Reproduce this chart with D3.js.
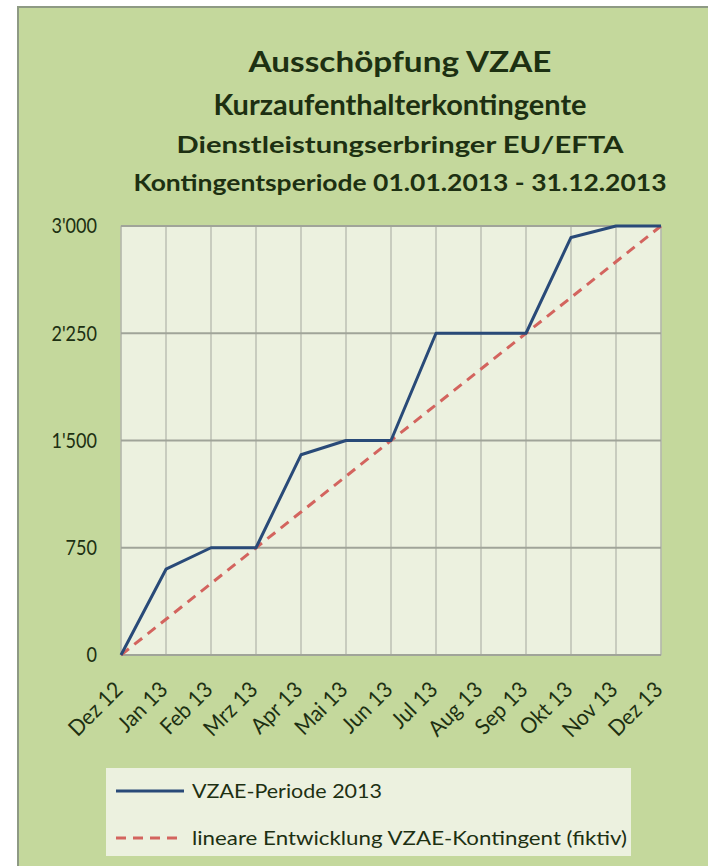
<!DOCTYPE html>
<html>
<head>
<meta charset="utf-8">
<script src="https://cdn.jsdelivr.net/npm/d3@7"></script>
<style>
  body { margin: 0; background: #fff; }
  svg { display: block; }
  text { font-family: Lato, "Open Sans", sans-serif; fill: #1d3012; }
</style>
</head>
<body>
<div id="chart"></div>
<script>
// data
const months = ["Dez 12", "Jan 13", "Feb 13", "Mrz 13", "Apr 13", "Mai 13", "Jun 13",
  "Jul 13", "Aug 13", "Sep 13", "Okt 13", "Nov 13", "Dez 13"];
const vzae2013 = [0, 600, 750, 750, 1400, 1500, 1500, 2250, 2250, 2250, 2920, 3000, 3000];
const linear = [0, 250, 500, 750, 1000, 1250, 1500, 1750, 2000, 2250, 2500, 2750, 3000];
const yTicks = [0, 750, 1500, 2250, 3000];
const titles = ["Ausschöpfung VZAE", "Kurzaufenthalterkontingente",
  "Dienstleistungserbringer EU/EFTA", "Kontingentsperiode 01.01.2013 - 31.12.2013"];
const legendLabels = ["VZAE-Periode 2013", "lineare Entwicklung VZAE-Kontingent (fiktiv)"];

const width = 708, height = 866;
const plot = { left: 121, right: 661, top: 226, bottom: 655 };

const svg = d3.select("#chart").append("svg")
  .attr("width", width).attr("height", height);

// panel
svg.append("rect").attr("x", 18).attr("y", 7)
  .attr("width", width).attr("height", height)
  .attr("fill", "#c4d89c")
  .attr("stroke", "#8e9a84").attr("stroke-width", 2);

// squeeze text (Calibri is narrower than the fonts we have)
const squeeze = (sel, k) => {
  sel.each(function () {
    const len = this.getComputedTextLength();
    d3.select(this).attr("textLength", len * k).attr("lengthAdjust", "spacingAndGlyphs");
  });
};
const toWidth = (sel, w) => sel.attr("textLength", w).attr("lengthAdjust", "spacingAndGlyphs");

// titles
const titleSpec = [
  { y: 72, size: 29, w: 303 },
  { y: 115, size: 29, w: 373 },
  { y: 153, size: 23, w: 447 },
  { y: 191, size: 23, w: 533 },
];
titles.forEach((t, i) => {
  const s = svg.append("text")
    .attr("x", 400).attr("y", titleSpec[i].y)
    .attr("text-anchor", "middle")
    .attr("font-weight", "bold")
    .attr("font-size", titleSpec[i].size)
    .text(t);
  toWidth(s, titleSpec[i].w);
});

// scales
const x = d3.scalePoint().domain(months).range([plot.left, plot.right]);
const y = d3.scaleLinear().domain([0, 3000]).range([plot.bottom, plot.top]);

// plot area
svg.append("rect")
  .attr("x", plot.left).attr("y", plot.top)
  .attr("width", plot.right - plot.left).attr("height", plot.bottom - plot.top)
  .attr("fill", "#ecf1df")
  .attr("stroke", "#b3b9a8").attr("stroke-width", 1);

// vertical gridlines
svg.append("g").selectAll("line").data(months).join("line")
  .attr("x1", (d) => x(d)).attr("x2", (d) => x(d))
  .attr("y1", plot.top).attr("y2", plot.bottom)
  .attr("stroke", "#b5b9ad").attr("stroke-width", 1.3);

// horizontal gridlines
svg.append("g").selectAll("line").data(yTicks).join("line")
  .attr("x1", plot.left).attr("x2", plot.right)
  .attr("y1", (d) => y(d)).attr("y2", (d) => y(d))
  .attr("stroke", "#a0a499").attr("stroke-width", 2);

// y axis labels
const fmt = (v) => d3.format(",")(v).replace(",", "'");
const yLabels = svg.append("g").selectAll("text").data(yTicks).join("text")
  .attr("x", 97).attr("y", (d) => y(d))
  .attr("dy", "0.35em")
  .attr("text-anchor", "end")
  .attr("font-size", 21)
  .text(fmt);
squeeze(yLabels, 0.86);

// x axis labels
const xLabels = svg.append("g").selectAll("text").data(months).join("text")
  .attr("transform", (d) => `translate(${x(d) + 3},${plot.bottom + 36}) rotate(-45)`)
  .attr("text-anchor", "end")
  .attr("font-size", 22)
  .text((d) => d);
squeeze(xLabels, 0.95);

// lines
const line = d3.line().x((d, i) => x(months[i])).y((d) => y(d));

svg.append("path").datum(linear)
  .attr("d", line)
  .attr("fill", "none")
  .attr("stroke", "#d3645e")
  .attr("stroke-width", 3)
  .attr("stroke-dasharray", "10,7");

svg.append("path").datum(vzae2013)
  .attr("d", line)
  .attr("fill", "none")
  .attr("stroke", "#294a78")
  .attr("stroke-width", 3)
  .attr("stroke-linejoin", "round");

// legend
const legend = svg.append("g");
legend.append("rect")
  .attr("x", 106).attr("y", 768).attr("width", 525).attr("height", 88)
  .attr("fill", "#ecf1df");
const legendItems = [
  { stroke: "#294a78", dash: null, y: 791, w: 190 },
  { stroke: "#d3645e", dash: "10,7", y: 838, w: 435 },
];
legendItems.forEach((d, i) => {
  legend.append("line")
    .attr("x1", 116).attr("x2", 184).attr("y1", d.y).attr("y2", d.y)
    .attr("stroke", d.stroke).attr("stroke-width", 3)
    .attr("stroke-dasharray", d.dash);
  const t = legend.append("text")
    .attr("x", 192).attr("y", d.y).attr("dy", "0.35em")
    .attr("font-size", 19)
    .text(legendLabels[i]);
  toWidth(t, d.w);
});
</script>
</body>
</html>
